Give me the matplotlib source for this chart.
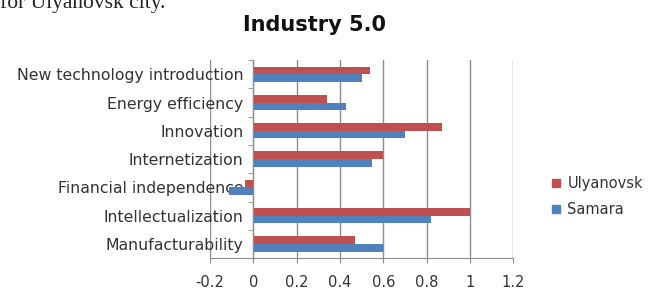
import matplotlib
matplotlib.use("Agg")
import matplotlib.pyplot as plt
import numpy as np
from matplotlib.lines import Line2D

categories = ["Manufacturability", "Intellectualization", "Financial independence",
              "Internetization", "Innovation", "Energy efficiency",
              "New technology introduction"]
ulyanovsk = [0.47, 1.00, -0.04, 0.60, 0.87, 0.34, 0.54]
samara = [0.60, 0.82, -0.11, 0.55, 0.70, 0.43, 0.50]
xticks = [-0.2, 0, 0.2, 0.4, 0.6, 0.8, 1, 1.2]
xticklabels = ["-0.2", "0", "0.2", "0.4", "0.6", "0.8", "1", "1.2"]

RED = "#C0504D"
BLUE = "#4F81BD"
GRID = "#8C8C8C"
TXT = "#333333"

fig = plt.figure(figsize=(6.52, 2.93), dpi=100)
ax = fig.add_axes([0.322, 0.119, 0.465, 0.676])

y = np.arange(len(categories))
h = 0.27
ax.barh(y + h / 2, ulyanovsk, height=h, color=RED, zorder=3)
ax.barh(y - h / 2, samara, height=h, color=BLUE, zorder=3)

ax.set_xlim(-0.2, 1.2)
ax.set_ylim(-0.5, len(categories) - 0.5)
ax.set_xticks(xticks)
ax.set_xticklabels(xticklabels, fontsize=10.5, color=TXT, family="DejaVu Sans")
ax.tick_params(axis="x", length=3.5, color=GRID, pad=9)
ax.grid(axis="x", color=GRID, linewidth=1.0, zorder=0)

for s in ["top", "right"]:
    ax.spines[s].set_visible(False)
ax.spines["left"].set_position(("data", 0))
ax.spines["left"].set_color(GRID)
ax.spines["bottom"].set_color(GRID)
ax.spines["left"].set_zorder(4)

ax.set_yticks(y)
ax.set_yticklabels(categories, fontsize=11.3, color=TXT, family="DejaVu Sans")
ax.tick_params(axis="y", length=0, pad=7)
ax.set_yticks(np.arange(len(categories) + 1) - 0.5, minor=True)
ax.tick_params(axis="y", which="minor", length=3.5, color=GRID)

fig.text(0.483, 0.915, "Industry 5.0", ha="center", va="center",
         fontsize=15, fontweight="bold", color="#111111", family="DejaVu Sans")
fig.text(0.0, 0.973, "for Ulyanovsk city.", ha="left", va="baseline",
         fontsize=15.5, color="#222222", family="Liberation Serif")

handles = [Line2D([], [], marker="s", linestyle="none", color=RED, markersize=6),
           Line2D([], [], marker="s", linestyle="none", color=BLUE, markersize=6)]
fig.legend(handles, ["Ulyanovsk", "Samara"], loc="center left",
           bbox_to_anchor=(0.822, 0.328), frameon=False,
           handletextpad=0.25, labelspacing=0.75, handlelength=1.0,
           labelcolor=TXT, prop={"family": "DejaVu Sans", "size": 10.5})

fig.savefig("out.png", dpi=100)
